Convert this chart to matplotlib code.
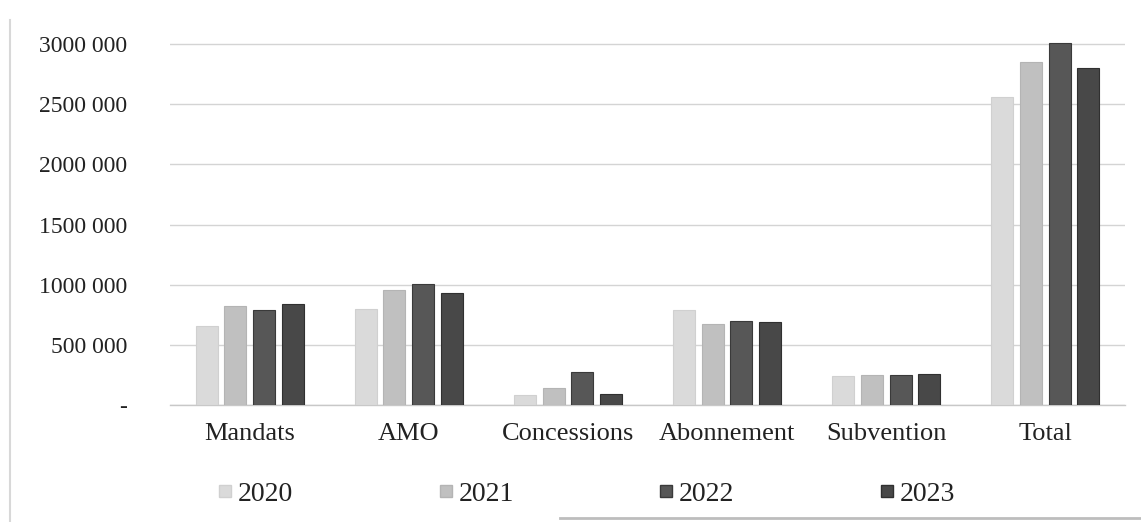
import matplotlib
matplotlib.use("Agg")
import matplotlib.pyplot as plt
from matplotlib.lines import Line2D
from matplotlib.ticker import FuncFormatter
import numpy as np

categories = ["Mandats", "AMO", "Concessions", "Abonnement", "Subvention", "Total"]
years = ["2020", "2021", "2022", "2023"]
v2020 = [658000, 799000, 84000, 786000, 241000, 2562000]
v2021 = [826000, 958000, 143000, 677000, 249000, 2848000]
v2022 = [792000, 1008000, 277000, 694000, 253000, 3007000]
v2023 = [842000, 933000, 92000, 690000, 260000, 2797000]
yticks = [0, 500000, 1000000, 1500000, 2000000, 2500000, 3000000]

series = [v2020, v2021, v2022, v2023]
colors = ["#dadada", "#c0c0c0", "#575757", "#484848"]
edges = ["#d0d0d0", "#b4b4b4", "#3a3a3a", "#303030"]

plt.rcParams['font.family'] = ['Liberation Serif', 'DejaVu Serif']

W, H = 1141, 522
fig = plt.figure(figsize=(W / 100, H / 100), dpi=100)
left, right, bottom, top = 170, 1125, 405, 38
ax = fig.add_axes([left / W, 1 - bottom / H, (right - left) / W, (bottom - top) / H])

x = np.arange(len(categories))
bw = 0.138
step = 0.18
offsets = (np.arange(4) - 1.5) * step
for i, (vals, c, e) in enumerate(zip(series, colors, edges)):
    ax.bar(x + offsets[i], vals, width=bw, color=c, edgecolor=e, linewidth=0.8, zorder=3)

ax.set_xlim(-0.5, len(categories) - 0.5)
ax.set_ylim(0, 3050000)
ax.set_yticks(yticks)

def fmt(v, pos):
    if v == 0:
        return "-"
    s = f"{int(v):,}".replace(",", " ")
    parts = s.split(" ")
    return "".join(parts[:-1]) + " " + parts[-1]

ax.yaxis.set_major_formatter(FuncFormatter(fmt))
ax.grid(axis='y', color='#d4d4d4', linewidth=1.0, zorder=0)
for s in ['top', 'right', 'left']:
    ax.spines[s].set_visible(False)
ax.spines['bottom'].set_color('#c8c8c8')
ax.spines['bottom'].set_linewidth(1.0)
ax.tick_params(axis='y', length=0, pad=31, labelsize=17, colors='#222222')
ax.tick_params(axis='x', length=0, pad=13, labelsize=19, colors='#222222')
ax.set_xticks(x)
ax.set_xticklabels(categories)

handles = [Line2D([0], [0], marker='s', linestyle='none', markersize=9,
                  markerfacecolor=c, markeredgecolor=e) for c, e in zip(colors, edges)]
leg = fig.legend(handles, years, loc='center', bbox_to_anchor=(586 / W, 1 - 494 / H),
                 ncol=4, frameon=False, fontsize=20, handlelength=0.6,
                 handletextpad=0.15, columnspacing=5.2)
for t in leg.get_texts():
    t.set_color('#222222')

# scanned page frame lines
fig.add_artist(Line2D([10 / W, 10 / W], [1 - 20 / H, 0], color='#d8d8d8', linewidth=1.5))
fig.add_artist(Line2D([560 / W, 1], [1 - 518 / H, 1 - 518 / H], color='#bdbdbd', linewidth=2))

fig.savefig("out.png", dpi=100)
